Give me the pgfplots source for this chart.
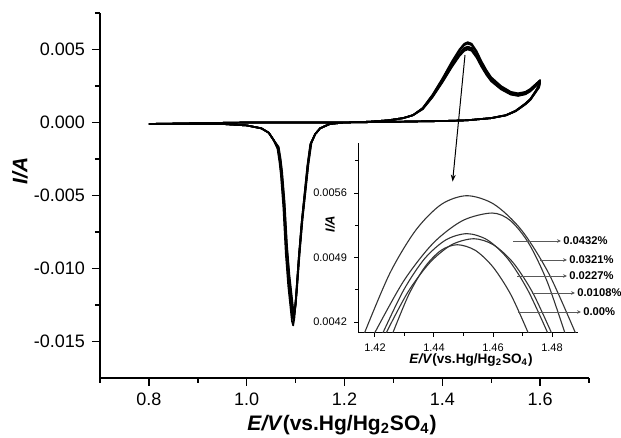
\documentclass[border=0pt]{standalone}
\usepackage{fontspec}
\setmainfont{Liberation Sans}
\usepackage{pgfplots}
\pgfplotsset{compat=1.18}
\usetikzlibrary{arrows.meta}
\pgfplotsset{
  mainline/.style={black, line width=0.85pt, line join=round, mark=none},
  insline/.style={black!80, line width=0.55pt, smooth, mark=none},
}
\begin{document}
\begin{tikzpicture}[x=1pt,y=1pt]
\path[use as bounding box] (-50,-30) rectangle (260.5,189);
\begin{axis}[
  at={(0pt,0pt)}, anchor=south west,
  scale only axis, width=244.5pt, height=182.5pt,
  xmin=0.7, xmax=1.7, ymin=-0.0175, ymax=0.0075,
  axis x line*=bottom, axis y line*=left,
  axis line style={-, line width=0.7pt},
  xtick={0.8,1.0,1.2,1.4,1.6}, minor xtick={0.7,0.9,1.1,1.3,1.5,1.7},
  ytick={-0.015,-0.01,-0.005,0,0.005}, minor ytick={-0.0125,-0.0075,-0.0025,0.0025,0.0075},
  tick align=outside, major tick length=4pt, minor tick length=2.5pt,
  tick style={black, line width=0.7pt},
  scaled y ticks=false, scaled x ticks=false,
  /pgf/number format/assume math mode=true,
  xticklabel style={/pgf/number format/.cd, fixed, fixed zerofill, precision=1},
  yticklabel style={/pgf/number format/.cd, fixed, fixed zerofill, precision=3},
  tick label style={font=\fontsize{9}{10}\selectfont},
]
\addplot[mainline] table {
0.80 -0.00010
0.90 -0.00005
1.00 0.00000
1.10 0.00000
1.20 0.00000
1.25 0.00005
1.29 0.00015
1.32 0.00030
1.34 0.00050
1.36 0.00100
1.38 0.00190
1.40 0.00300
1.42 0.00420
1.435 0.00500
1.445 0.00540
1.452 0.00550
1.46 0.00540
1.47 0.00490
1.48 0.00420
1.49 0.00360
1.50 0.00310
1.52 0.00250
1.54 0.00210
1.555 0.00200
1.57 0.00210
1.58 0.00230
1.59 0.00260
1.60 0.00290
1.598 0.00260
1.59 0.00210
1.58 0.00160
1.57 0.00130
1.55 0.00080
1.53 0.00050
1.50 0.00030
1.45 0.00015
1.40 0.00010
1.30 0.00005
1.20 0.00000
1.17 -0.00010
1.15 -0.00040
1.14 -0.00080
1.130 -0.00150
1.124 -0.00300
1.118 -0.00500
1.112 -0.00700
1.106 -0.00950
1.100 -0.01240
1.0975 -0.01340
1.095 -0.01390
1.0925 -0.01360
1.090 -0.01280
1.085 -0.01120
1.080 -0.00900
1.075 -0.00580
1.070 -0.00360
1.067 -0.00270
1.063 -0.00180
1.055 -0.00120
1.045 -0.00070
1.03 -0.00040
1.00 -0.00020
0.95 -0.00010
0.80 -0.00010
};
\addplot[mainline] table {
0.80 -0.00010
0.90 -0.00005
1.00 0.00000
1.10 0.00000
1.20 0.00000
1.25 0.00005
1.29 0.00015
1.32 0.00030
1.34 0.00050
1.36 0.00098
1.38 0.00187
1.40 0.00295
1.42 0.00412
1.435 0.00491
1.445 0.00530
1.452 0.00540
1.46 0.00530
1.47 0.00481
1.48 0.00412
1.49 0.00354
1.50 0.00304
1.52 0.00246
1.54 0.00206
1.555 0.00196
1.57 0.00207
1.58 0.00227
1.59 0.00258
1.60 0.00289
1.598 0.00255
1.59 0.00210
1.58 0.00160
1.57 0.00130
1.55 0.00080
1.53 0.00050
1.50 0.00030
1.45 0.00015
1.40 0.00010
1.30 0.00005
1.20 0.00000
1.17 -0.00010
1.15 -0.00040
1.14 -0.00080
1.1306 -0.00146
1.1246 -0.00291
1.1186 -0.00486
1.1126 -0.00680
1.1066 -0.00922
1.1006 -0.01204
1.0981 -0.01301
1.0956 -0.01350
1.0931 -0.01321
1.0906 -0.01243
1.0856 -0.01088
1.0806 -0.00874
1.0756 -0.00563
1.0706 -0.00350
1.0676 -0.00262
1.0636 -0.00175
1.055 -0.00120
1.045 -0.00070
1.03 -0.00040
1.00 -0.00020
0.95 -0.00010
0.80 -0.00010
};
\addplot[mainline] table {
0.80 -0.00010
0.90 -0.00005
1.00 0.00000
1.10 0.00000
1.20 0.00000
1.25 0.00005
1.29 0.00015
1.32 0.00030
1.34 0.00050
1.36 0.00095
1.38 0.00180
1.40 0.00284
1.42 0.00397
1.435 0.00473
1.445 0.00510
1.452 0.00520
1.46 0.00510
1.47 0.00463
1.48 0.00397
1.49 0.00340
1.50 0.00293
1.52 0.00236
1.54 0.00198
1.555 0.00189
1.57 0.00200
1.58 0.00220
1.59 0.00252
1.60 0.00284
1.598 0.00250
1.59 0.00208
1.58 0.00158
1.57 0.00128
1.55 0.00079
1.53 0.00050
1.50 0.00030
1.45 0.00015
1.40 0.00010
1.30 0.00005
1.20 0.00000
1.17 -0.00010
1.15 -0.00040
1.14 -0.00080
1.1312 -0.00144
1.1252 -0.00287
1.1192 -0.00479
1.1132 -0.00670
1.1072 -0.00909
1.1012 -0.01187
1.0987 -0.01282
1.0962 -0.01330
1.0937 -0.01302
1.0912 -0.01225
1.0862 -0.01072
1.0812 -0.00861
1.0762 -0.00555
1.0712 -0.00345
1.0682 -0.00258
1.0642 -0.00172
1.055 -0.00120
1.045 -0.00070
1.03 -0.00040
1.00 -0.00020
0.95 -0.00010
0.80 -0.00010
};
\addplot[mainline] table {
0.80 -0.00010
0.90 -0.00005
1.00 0.00000
1.10 0.00000
1.20 0.00000
1.25 0.00005
1.29 0.00015
1.32 0.00030
1.34 0.00050
1.36 0.00093
1.38 0.00176
1.40 0.00278
1.42 0.00389
1.435 0.00464
1.445 0.00501
1.452 0.00510
1.46 0.00501
1.47 0.00454
1.48 0.00389
1.49 0.00334
1.50 0.00287
1.52 0.00232
1.54 0.00195
1.555 0.00185
1.57 0.00196
1.58 0.00216
1.59 0.00248
1.60 0.00280
1.598 0.00245
1.59 0.00205
1.58 0.00156
1.57 0.00126
1.55 0.00078
1.53 0.00049
1.50 0.00030
1.45 0.00015
1.40 0.00010
1.30 0.00005
1.20 0.00000
1.17 -0.00010
1.15 -0.00040
1.14 -0.00080
1.1318 -0.00141
1.1258 -0.00283
1.1198 -0.00471
1.1138 -0.00659
1.1078 -0.00895
1.1018 -0.01168
1.0993 -0.01262
1.0968 -0.01309
1.0943 -0.01281
1.0918 -0.01206
1.0868 -0.01055
1.0818 -0.00848
1.0768 -0.00546
1.0718 -0.00339
1.0688 -0.00254
1.0648 -0.00170
1.055 -0.00120
1.045 -0.00070
1.03 -0.00040
1.00 -0.00020
0.95 -0.00010
0.80 -0.00010
};
\addplot[mainline] table {
0.80 -0.00010
0.90 -0.00005
1.00 0.00000
1.10 0.00000
1.20 0.00000
1.25 0.00005
1.29 0.00015
1.32 0.00030
1.34 0.00050
1.36 0.00091
1.38 0.00173
1.40 0.00273
1.42 0.00382
1.435 0.00455
1.445 0.00491
1.452 0.00500
1.46 0.00491
1.47 0.00445
1.48 0.00382
1.49 0.00327
1.50 0.00282
1.52 0.00227
1.54 0.00191
1.555 0.00182
1.57 0.00193
1.58 0.00213
1.59 0.00245
1.60 0.00277
1.598 0.00240
1.59 0.00202
1.58 0.00154
1.57 0.00124
1.55 0.00077
1.53 0.00048
1.50 0.00030
1.45 0.00015
1.40 0.00010
1.30 0.00005
1.20 0.00000
1.17 -0.00010
1.15 -0.00040
1.14 -0.00080
1.1324 -0.00140
1.1264 -0.00281
1.1204 -0.00468
1.1144 -0.00655
1.1084 -0.00888
1.1024 -0.01159
1.0999 -0.01253
1.0974 -0.01300
1.0949 -0.01272
1.0924 -0.01197
1.0874 -0.01047
1.0824 -0.00842
1.0774 -0.00542
1.0724 -0.00337
1.0694 -0.00252
1.0654 -0.00168
1.055 -0.00120
1.045 -0.00070
1.03 -0.00040
1.00 -0.00020
0.95 -0.00010
0.80 -0.00010
};
\end{axis}
\begin{axis}[
  at={(129pt,22.5pt)}, anchor=south west,
  scale only axis, width=110pt, height=95pt,
  xmin=1.41424, xmax=1.48881, ymin=0.004081, ymax=0.006143,
  axis x line*=bottom, axis y line*=left,
  axis line style={-, line width=0.5pt},
  xtick={1.42,1.44,1.46,1.48}, minor xtick={1.43,1.45,1.47},
  ytick={0.0042,0.0049,0.0056}, minor ytick={0.00455,0.00525,0.00595},
  tick align=outside, major tick length=2pt, minor tick length=1.3pt,
  tick style={black, line width=0.5pt},
  scaled y ticks=false, scaled x ticks=false,
  /pgf/number format/assume math mode=true,
  xticklabel style={/pgf/number format/.cd, fixed, fixed zerofill, precision=2},
  yticklabel style={/pgf/number format/.cd, fixed, fixed zerofill, precision=4},
  tick label style={font=\fontsize{5.5}{6}\selectfont},
]
\addplot[insline] table {
1.4163 0.00407
1.4250 0.004727
1.4338 0.005196
1.4425 0.005477
1.4512 0.005571
1.4604 0.005477
1.4697 0.005196
1.4789 0.004727
1.4881 0.00407
};
\addplot[insline] table {
1.4197 0.00407
1.4297 0.004644
1.4397 0.005055
1.4497 0.005301
1.4597 0.005383
1.4659 0.005301
1.4721 0.005055
1.4783 0.004644
1.4845 0.00407
};
\addplot[insline] table {
1.4225 0.00407
1.4297 0.004546
1.4368 0.004887
1.4440 0.005091
1.4512 0.005159
1.4581 0.005091
1.4650 0.004887
1.4718 0.004546
1.4787 0.00407
};
\addplot[insline] table {
1.4236 0.00407
1.4311 0.004522
1.4386 0.004845
1.4460 0.005039
1.4535 0.005104
1.4601 0.005039
1.4668 0.004845
1.4734 0.004522
1.4800 0.00407
};
\addplot[insline] table {
1.4259 0.00407
1.4314 0.004494
1.4369 0.004797
1.4424 0.004978
1.4479 0.005039
1.4540 0.004978
1.4600 0.004797
1.4661 0.004494
1.4721 0.00407
};
\end{axis}
% axis titles
\node[rotate=90, font=\fontsize{10.5}{12}\selectfont\bfseries\itshape] at (-40,103.5) {I/A};
\node[font=\fontsize{10.5}{12}\selectfont\bfseries] at (121,-23.5) {\textit{E/V}(vs.Hg/Hg\textsubscript{2}SO\textsubscript{4})};
\node[font=\fontsize{6.8}{8}\selectfont\bfseries] at (185.5,9) {\textit{E/V}(vs.Hg/Hg\textsubscript{2}SO\textsubscript{4})};
\node[rotate=90, font=\fontsize{6.5}{8}\selectfont\bfseries\itshape] at (115,77) {I/A};
% arrow from main peak to inset
\draw[black, line width=0.5pt, -{Stealth[length=3.5pt,width=2.5pt]}] (182.5,161.5) -- (176.3,98.2);
% labels
\begin{scope}[gray!70!black, line width=0.45pt, -{Stealth[length=2pt,width=1.8pt]}]
\draw (206.5,68.5) -- (230.5,68.5);
\draw (220,59) -- (233.5,59);
\draw (208.5,51) -- (233.5,51);
\draw (216,42.5) -- (237.5,42.5);
\draw (209,33) -- (240.5,33);
\end{scope}
\begin{scope}[every node/.style={anchor=west, inner sep=0.5pt, font=\fontsize{5.6}{6}\selectfont\bfseries}]
\node at (231,68.5) {0.0432\%};
\node at (234,59) {0.0321\%};
\node at (234,51) {0.0227\%};
\node at (238,42.5) {0.0108\%};
\node at (241,33) {0.00\%};
\end{scope}
\end{tikzpicture}
\end{document}
